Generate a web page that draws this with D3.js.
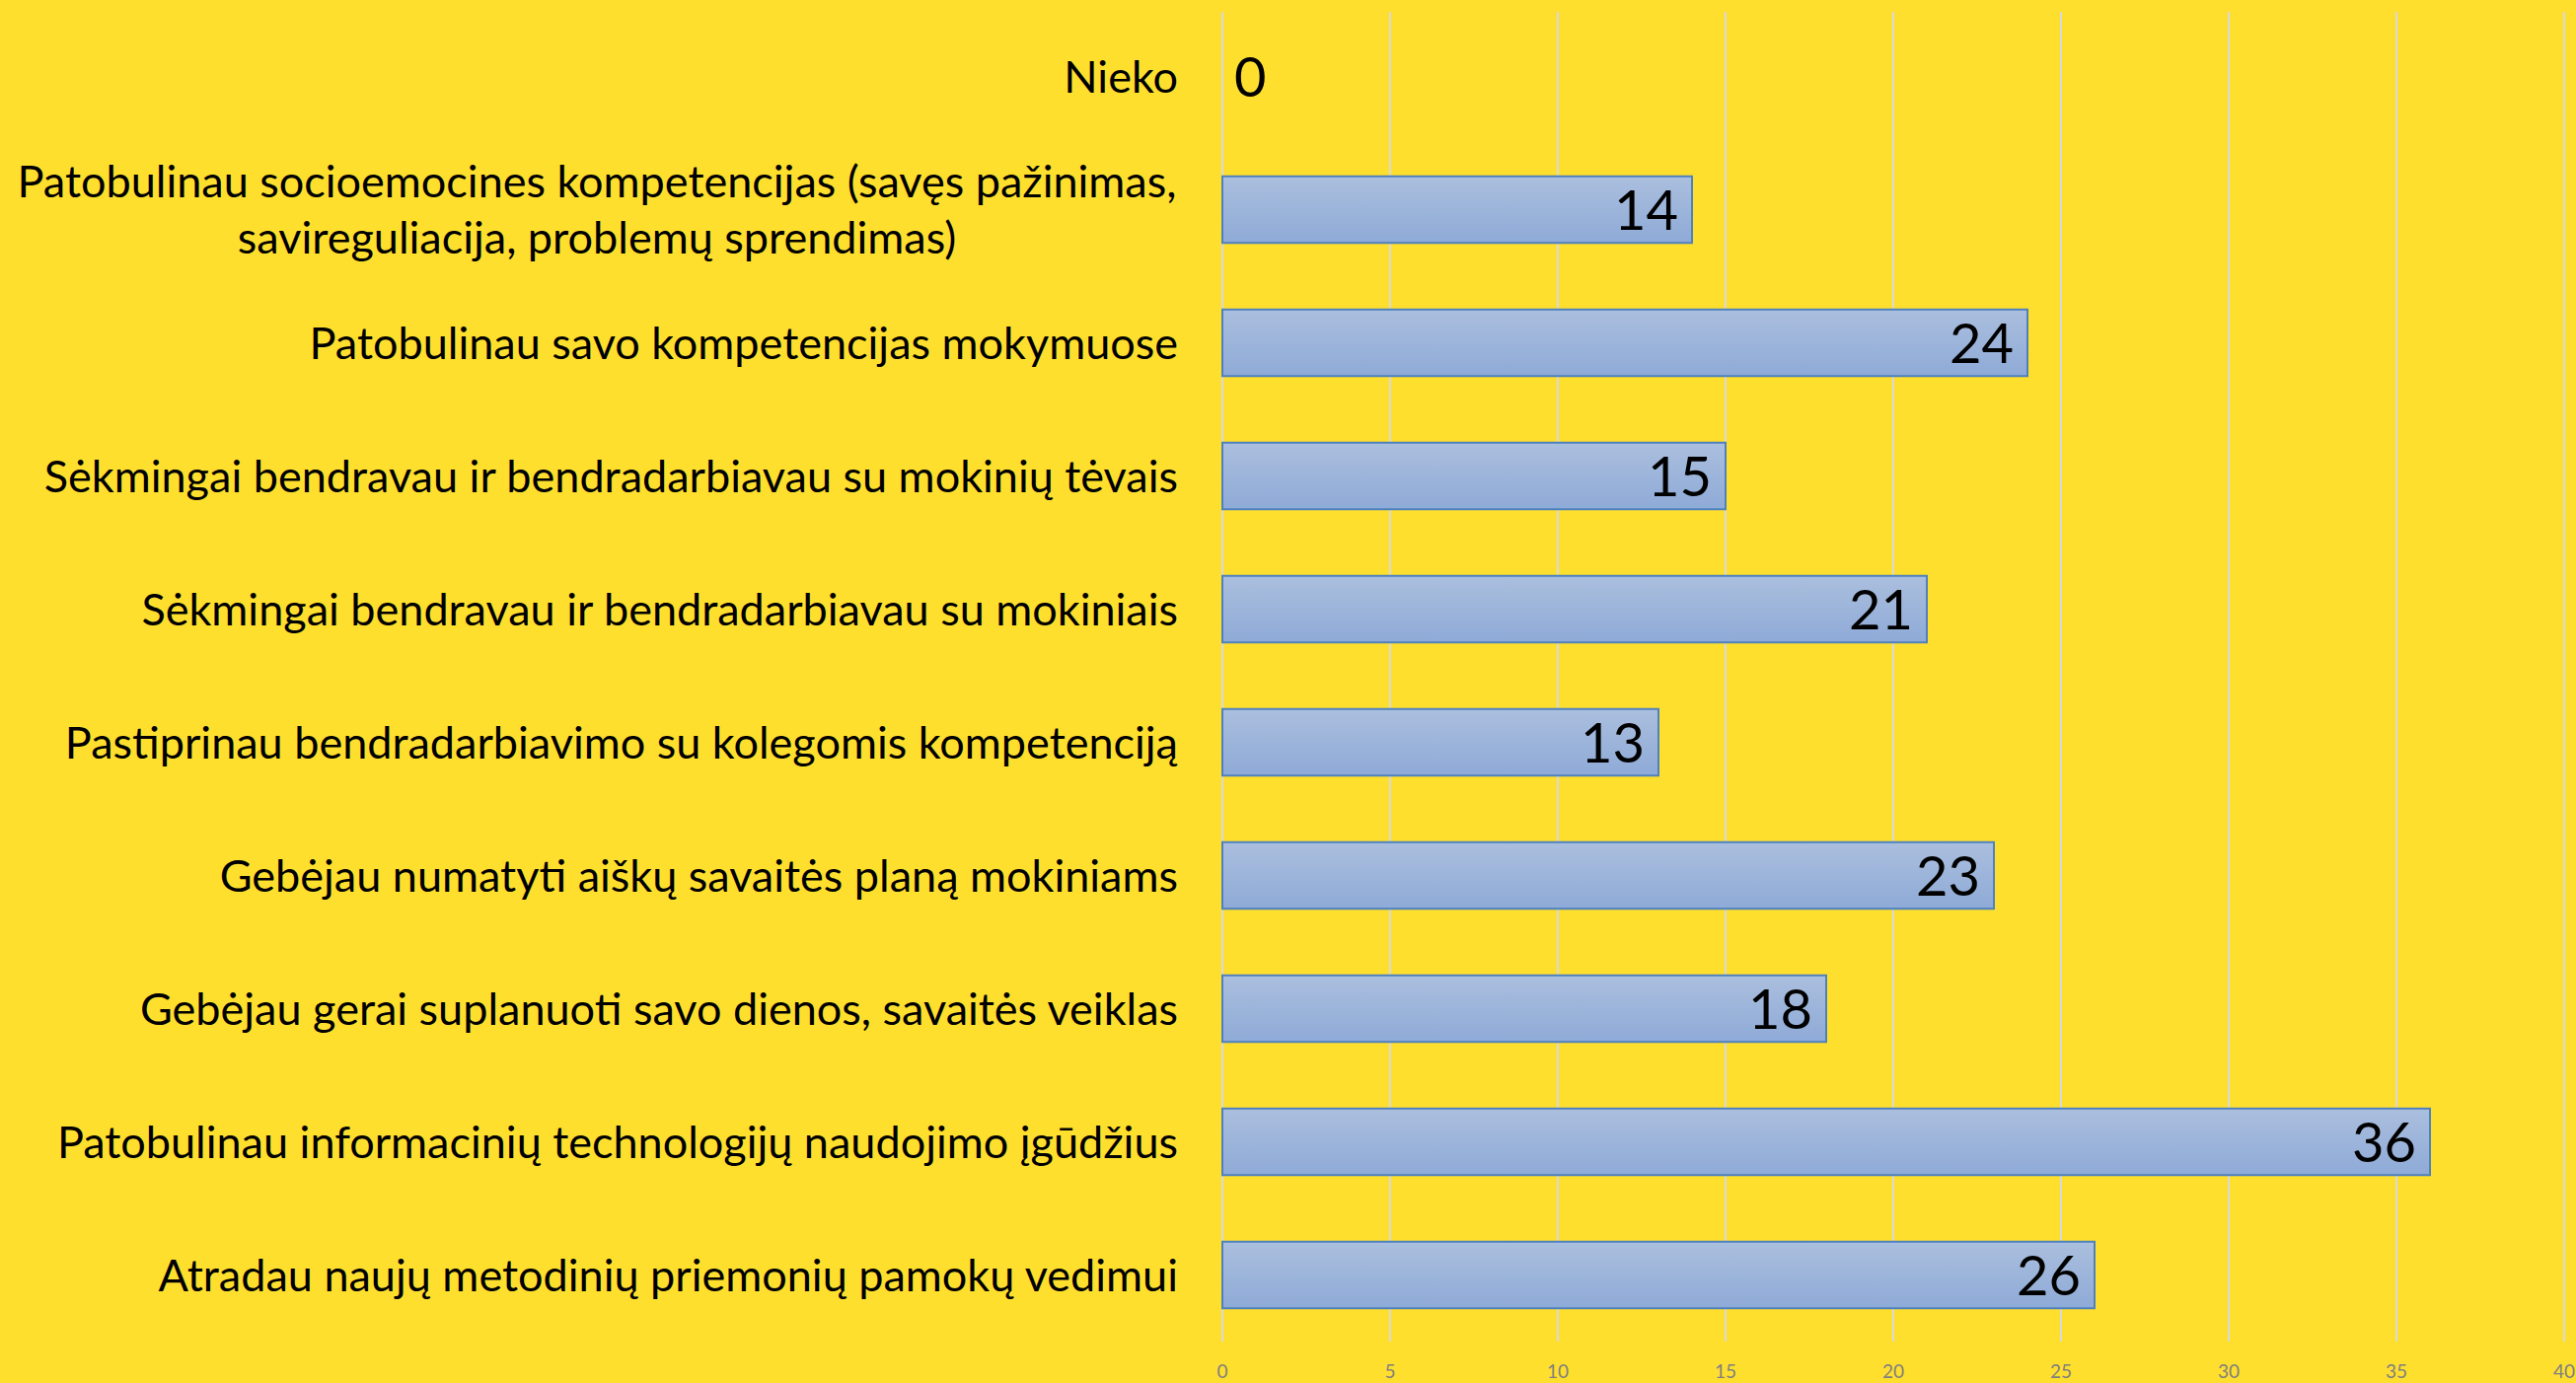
<!DOCTYPE html>
<html>
<head>
<meta charset="utf-8">
<script src="https://cdn.jsdelivr.net/npm/d3@7"></script>
<style>
  html, body { margin: 0; padding: 0; background: #ffdf2e; }
  svg { display: block; }
</style>
</head>
<body>
<div id="chart"></div>
<script>
// categories, top to bottom ("|" marks a line break)
const categories = [
  "Nieko",
  "Patobulinau socioemocines kompetencijas (savęs pažinimas,|savireguliacija, problemų sprendimas)",
  "Patobulinau savo kompetencijas mokymuose",
  "Sėkmingai bendravau ir bendradarbiavau su mokinių tėvais",
  "Sėkmingai bendravau ir bendradarbiavau su mokiniais",
  "Pastiprinau bendradarbiavimo su kolegomis kompetenciją",
  "Gebėjau numatyti aiškų savaitės planą mokiniams",
  "Gebėjau gerai suplanuoti savo dienos, savaitės veiklas",
  "Patobulinau informacinių technologijų naudojimo įgūdžius",
  "Atradau naujų metodinių priemonių pamokų vedimui"
];
const values = [0, 14, 24, 15, 21, 13, 23, 18, 36, 26];
const xTicks = [0, 5, 10, 15, 20, 25, 30, 35, 40];

const width = 2611;
const height = 1402;
const margin = { top: 10, right: 12, bottom: 42, left: 1239 };
const labelSize = 45;
const lineGap = 57;

const data = categories.map((c, i) => ({ label: c, value: values[i] }));

const svg = d3
  .select("#chart")
  .append("svg")
  .attr("width", width)
  .attr("height", height);

svg.append("rect").attr("width", width).attr("height", height).attr("fill", "#ffdf2e");

const x = d3.scaleLinear().domain([0, 40]).range([margin.left, width - margin.right]);

const y = d3
  .scaleBand()
  .domain(data.map((d, i) => i))
  .range([margin.top, height - margin.bottom])
  .paddingInner(0.5)
  .paddingOuter(0.25);

// gradient for the bars
const grad = svg
  .append("defs")
  .append("linearGradient")
  .attr("id", "bargrad")
  .attr("x1", "0%")
  .attr("x2", "0%")
  .attr("y1", "0%")
  .attr("y2", "100%");
grad.append("stop").attr("offset", "0%").style("stop-color", "#abbfde");
grad.append("stop").attr("offset", "100%").style("stop-color", "#8eaad7");

// gridlines
svg
  .append("g")
  .selectAll("line")
  .data(xTicks)
  .join("line")
  .attr("x1", (d) => x(d))
  .attr("x2", (d) => x(d))
  .attr("y1", 12)
  .attr("y2", height - margin.bottom)
  .attr("stroke", "#d9d9d9")
  .attr("stroke-width", 2);

// tick labels
svg
  .append("g")
  .selectAll("text")
  .data(xTicks)
  .join("text")
  .attr("x", (d) => x(d))
  .attr("y", 1397)
  .attr("text-anchor", "middle")
  .attr("font-family", "Lato, sans-serif")
  .attr("font-size", 19)
  .attr("fill", "#7f7f7f")
  .text((d) => d);

// bars
svg
  .append("g")
  .selectAll("rect")
  .data(data.filter((d) => d.value > 0))
  .join("rect")
  .attr("x", x(0))
  .attr("y", (d) => y(data.indexOf(d)))
  .attr("width", (d) => x(d.value) - x(0))
  .attr("height", y.bandwidth())
  .attr("fill", "url(#bargrad)")
  .attr("stroke", "#4f81bd")
  .attr("stroke-width", 2);

// value labels
svg
  .append("g")
  .selectAll("text")
  .data(data)
  .join("text")
  .attr("x", (d) => (d.value > 0 ? x(d.value) - 14 : x(0) + 12))
  .attr("y", (d, i) => y(i) + y.bandwidth() / 2)
  .attr("dy", "0.36em")
  .attr("text-anchor", (d) => (d.value > 0 ? "end" : "start"))
  .attr("font-family", "Lato, sans-serif")
  .attr("font-size", 56)
  .attr("fill", "#000")
  .text((d) => d.value);

// category labels
const labels = svg
  .append("g")
  .selectAll("text")
  .data(data)
  .join("text")
  .attr("font-family", "Lato, sans-serif")
  .attr("font-size", labelSize)
  .attr("fill", "#000")
  .attr("text-anchor", (d) => (d.label.includes("|") ? "middle" : "end"))
  .attr("y", (d, i) => y(i) + y.bandwidth() / 2);

labels.each(function (d) {
  const lines = d.label.split("|");
  const t = d3.select(this);
  const cx = lines.length > 1 ? 605 : 1194;
  lines.forEach((line, j) => {
    t.append("tspan")
      .attr("x", cx)
      .attr("dy", j === 0 ? 0.36 * labelSize - ((lines.length - 1) * lineGap) / 2 : lineGap)
      .text(line);
  });
});
</script>
</body>
</html>
